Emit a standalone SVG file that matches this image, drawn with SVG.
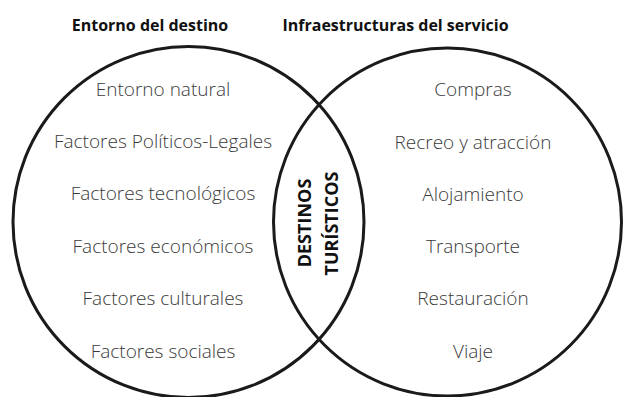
<svg xmlns="http://www.w3.org/2000/svg" width="623" height="397" viewBox="0 0 623 397">
<style>
.c{fill:none;stroke:#1a1a1a;stroke-width:3}
.t{font-family:"Open Sans","Liberation Sans",sans-serif;font-weight:700;font-size:16px;fill:#111;text-anchor:middle}
.i{font-family:"Open Sans","Liberation Sans",sans-serif;font-weight:300;font-size:19px;fill:#3a3a3a;text-anchor:middle}
.l{font-family:"Open Sans","Liberation Sans",sans-serif;font-weight:700;font-size:18px;fill:#111;text-anchor:middle}
</style>
<rect width="623" height="397" fill="#fff"/>
<g id="left-set">
<circle class="c" cx="188.5" cy="222" r="175.5"/>
<text class="t" x="150" y="31">Entorno del destino</text>
<text class="i" x="163" y="96">Entorno natural</text>
<text class="i" x="163" y="148">Factores Políticos-Legales</text>
<text class="i" x="163" y="200">Factores tecnológicos</text>
<text class="i" x="163" y="252.5">Factores económicos</text>
<text class="i" x="163" y="305">Factores culturales</text>
<text class="i" x="163" y="358">Factores sociales</text>
</g>
<g id="right-set">
<circle class="c" cx="447.5" cy="222" r="174"/>
<text class="t" x="395.5" y="31">Infraestructuras del servicio</text>
<text class="i" x="473" y="96">Compras</text>
<text class="i" x="473" y="149">Recreo y atracción</text>
<text class="i" x="473" y="200.5">Alojamiento</text>
<text class="i" x="473" y="253">Transporte</text>
<text class="i" x="473" y="305">Restauración</text>
<text class="i" x="473" y="358">Viaje</text>
</g>
<g id="intersection">
<text class="l" transform="translate(311,223) rotate(-90)">DESTINOS</text>
<text class="l" transform="translate(338,223.5) rotate(-90)">TURÍSTICOS</text>
</g>
<g id="connectors"/>
</svg>
